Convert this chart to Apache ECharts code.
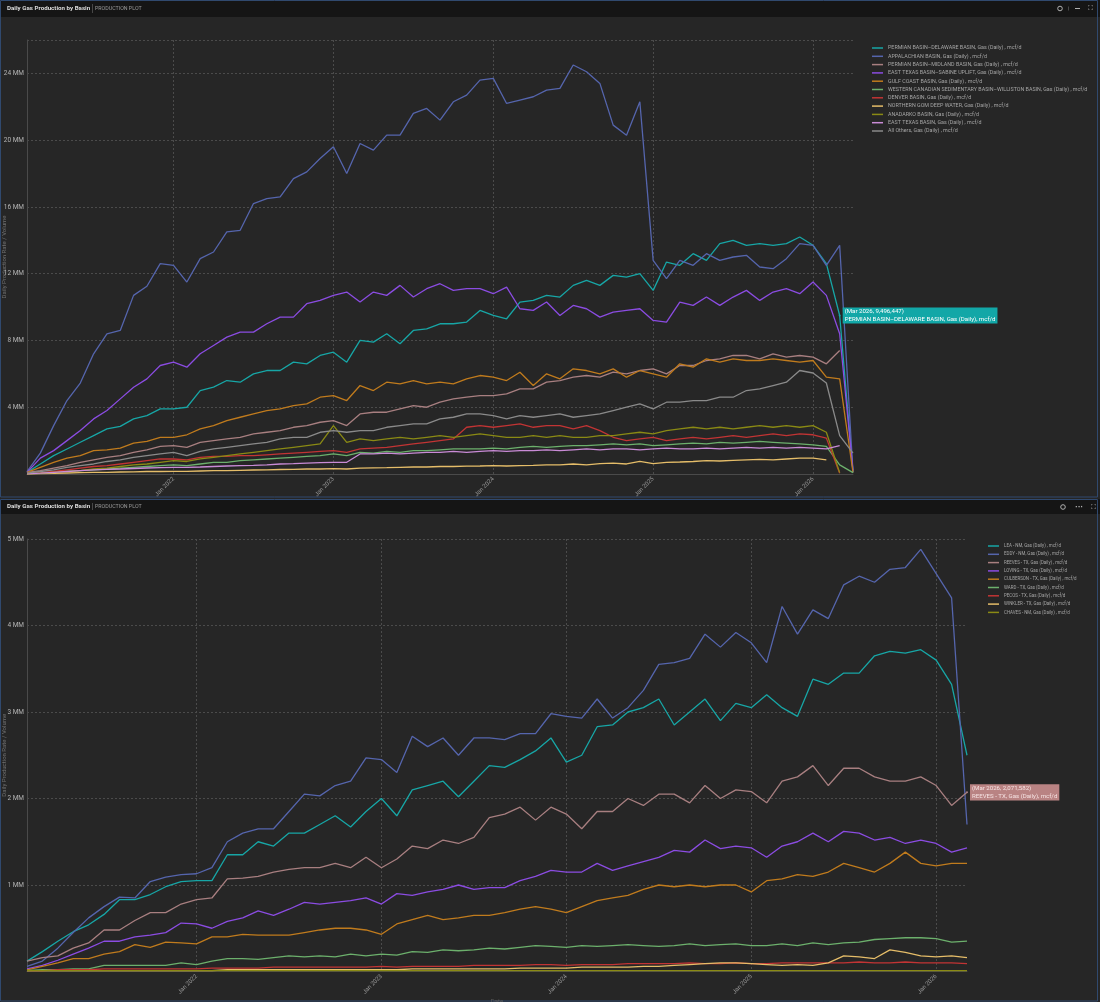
<!DOCTYPE html>
<html><head><meta charset="utf-8">
<script src="https://cdn.jsdelivr.net/npm/echarts@6/dist/echarts.min.js"></script>
<style>html,body{margin:0;padding:0;background:#1b1b1b;}#c{width:1100px;height:1002px;}</style>
</head><body><div id="c"></div>
<script>
// ---------- categories ----------
const monthNames = ['Jan','Feb','Mar','Apr','May','Jun','Jul','Aug','Sep','Oct','Nov','Dec'];
function monthRange(y0, m0, y1, m1) { const out = []; let y = y0, m = m0; while (y < y1 || (y === y1 && m <= m1)) { out.push(monthNames[m] + ' ' + y); m++; if (m > 11) { m = 0; y++; } } return out; }
const topMonths = monthRange(2021, 1, 2026, 3);     // Feb 2021 .. Apr 2026
const bottomMonths = monthRange(2021, 1, 2026, 2);  // Feb 2021 .. Mar 2026

// ---------- top chart values (MM mcf/d) ----------
const topNames = [
 'PERMIAN BASIN–DELAWARE BASIN, Gas (Daily) , mcf/d',
 'APPALACHIAN BASIN, Gas (Daily) , mcf/d',
 'PERMIAN BASIN–MIDLAND BASIN, Gas (Daily) , mcf/d',
 'EAST TEXAS BASIN–SABINE UPLIFT, Gas (Daily) , mcf/d',
 'GULF COAST BASIN, Gas (Daily) , mcf/d',
 'WESTERN CANADIAN SEDIMENTARY BASIN–WILLISTON BASIN, Gas (Daily) , mcf/d',
 'DENVER BASIN, Gas (Daily) , mcf/d',
 'NORTHERN GOM DEEP WATER, Gas (Daily) , mcf/d',
 'ANADARKO BASIN, Gas (Daily) , mcf/d',
 'EAST TEXAS BASIN, Gas (Daily) , mcf/d',
 'All Others, Gas (Daily) , mcf/d'
];
const permianDelaware = [0.1,0.6,1.1,1.5,1.9,2.3,2.7,2.85,3.3,3.5, 3.9,3.9,4.0,5.0,5.2,5.6,5.5,6.0,6.2,6.2, 6.7,6.6,7.1,7.3,6.7,8.0,7.9,8.4,7.8,8.6, 8.7,9.0,9.0,9.1,9.8,9.5,9.3,10.3,10.4,10.7, 10.6,11.3,11.6,11.3,11.9,11.8,12.0,11.0,12.7,12.5, 13.2,12.8,13.8,14.0,13.7,13.8,13.7,13.8,14.2,13.7, 12.6,9.496447,0.1];
const appalachian = [0.14,1.25,2.9,4.4,5.45,7.2,8.4,8.6,10.7,11.25, 12.6,12.5,11.5,12.9,13.3,14.5,14.6,16.2,16.5,16.6, 17.7,18.1,18.9,19.6,18.0,19.8,19.4,20.3,20.3,21.6, 21.9,21.2,22.3,22.7,23.6,23.7,22.2,22.4,22.6,23.0, 23.1,24.5,24.1,23.4,20.9,20.3,22.3,12.8,11.7,12.8, 12.5,13.2,12.8,13.0,13.1,12.4,12.3,12.9,13.8,13.7, 12.5,13.7,0.1];
const permianMidland = [0.1,0.2,0.35,0.5,0.7,0.85,1.0,1.1,1.3,1.45, 1.65,1.7,1.6,1.9,2.0,2.1,2.2,2.4,2.5,2.6, 2.8,2.9,3.1,3.2,2.9,3.6,3.7,3.7,3.9,4.1, 4.0,4.3,4.5,4.6,4.7,4.7,4.8,5.1,5.1,5.5, 5.6,5.8,5.9,5.8,6.1,6.0,6.2,6.3,6.0,6.5, 6.5,6.8,6.9,7.1,7.1,6.9,7.2,7.0,7.1,7.0, 6.6,7.4,null];
const eastTexasSabine = [0.1,0.95,1.4,2.0,2.6,3.3,3.8,4.5,5.2,5.7, 6.5,6.7,6.4,7.2,7.7,8.2,8.5,8.5,9.0,9.4, 9.4,10.2,10.4,10.7,10.9,10.3,10.9,10.7,11.3,10.6, 11.1,11.4,11.0,11.1,11.1,10.8,11.2,9.9,9.8,10.3, 9.5,10.1,9.9,9.4,9.7,9.8,9.9,9.2,9.1,10.3, 10.1,10.6,10.1,10.6,11.0,10.4,10.9,11.1,10.8,11.5, 10.7,8.4,0.2];
const gulfCoast = [0.1,0.4,0.7,0.95,1.1,1.4,1.45,1.55,1.85,1.95, 2.2,2.2,2.35,2.7,2.9,3.2,3.4,3.6,3.8,3.9, 4.1,4.2,4.6,4.7,4.4,5.3,5.0,5.5,5.4,5.6, 5.4,5.5,5.4,5.7,5.9,5.8,5.6,6.1,5.3,6.0, 5.7,6.3,6.2,6.0,6.3,5.8,6.2,6.0,5.8,6.6, 6.4,6.9,6.7,6.9,6.8,6.8,6.9,6.8,6.7,6.8, 5.8,5.7,0.1];
const westernCanadian = [0.02,0.05,0.1,0.15,0.2,0.25,0.3,0.35,0.4,0.45, 0.5,0.55,0.5,0.6,0.7,0.7,0.8,0.85,0.9,0.95, 1.0,1.05,1.1,1.2,1.1,1.3,1.25,1.35,1.3,1.4, 1.4,1.45,1.5,1.5,1.5,1.55,1.5,1.6,1.65,1.6, 1.65,1.7,1.7,1.75,1.8,1.75,1.8,1.7,1.75,1.8, 1.85,1.8,1.9,1.85,1.9,1.95,1.9,1.85,1.8,1.75, 1.65,0.55,0.08];
const denver = [0.02,0.08,0.15,0.25,0.35,0.45,0.5,0.6,0.7,0.8, 0.9,0.9,0.85,1.0,1.05,1.05,1.1,1.1,1.15,1.2, 1.25,1.3,1.35,1.4,1.3,1.5,1.55,1.6,1.7,1.8, 1.9,2.0,2.1,2.8,2.9,2.8,2.9,3.0,2.8,2.9, 2.9,2.7,2.9,2.6,2.2,2.0,2.1,2.2,2.0,2.1, 2.2,2.1,2.2,2.3,2.2,2.3,2.4,2.3,2.4,2.35, 2.15,0.05,null];
const northernGom = [0.0,0.02,0.04,0.06,0.08,0.1,0.1,0.12,0.13,0.15, 0.15,0.16,0.16,0.18,0.2,0.2,0.22,0.24,0.25,0.27, 0.28,0.3,0.3,0.32,0.3,0.35,0.37,0.38,0.4,0.42, 0.42,0.45,0.45,0.47,0.48,0.5,0.48,0.5,0.52,0.55, 0.55,0.6,0.55,0.62,0.65,0.6,0.75,0.62,0.7,0.72, 0.75,0.8,0.78,0.82,0.85,0.88,0.85,0.9,0.95,0.95, 0.85,null,null];
const anadarko = [0.01,0.05,0.1,0.15,0.2,0.3,0.35,0.45,0.55,0.6, 0.7,0.8,0.75,0.9,1.0,1.1,1.2,1.3,1.4,1.5, 1.6,1.7,1.8,2.9,1.9,2.1,2.0,2.1,2.2,2.1, 2.2,2.3,2.2,2.3,2.4,2.3,2.2,2.2,2.3,2.2, 2.3,2.2,2.2,2.3,2.3,2.4,2.5,2.4,2.6,2.7, 2.8,2.7,2.8,2.7,2.8,2.9,2.8,2.9,2.8,2.9, 2.5,0.08,null];
const eastTexasBasin = [0.01,0.05,0.1,0.15,0.2,0.25,0.28,0.3,0.33,0.36, 0.38,0.4,0.4,0.42,0.45,0.48,0.5,0.52,0.55,0.6, 0.62,0.65,0.68,0.7,0.7,1.2,1.2,1.25,1.2,1.25, 1.3,1.3,1.35,1.3,1.35,1.4,1.35,1.4,1.4,1.45, 1.4,1.45,1.5,1.45,1.5,1.5,1.45,1.5,1.55,1.5, 1.5,1.55,1.5,1.55,1.6,1.55,1.6,1.55,1.6,1.55, 1.5,1.7,null];
const allOthers = [0.05,0.15,0.25,0.4,0.5,0.6,0.75,0.85,1.0,1.1, 1.2,1.3,1.1,1.35,1.5,1.6,1.7,1.8,1.9,2.1, 2.2,2.2,2.5,2.6,2.5,2.6,2.6,2.8,2.9,3.0, 3.0,3.3,3.4,3.6,3.6,3.5,3.3,3.5,3.4,3.5, 3.6,3.4,3.5,3.6,3.8,4.0,4.2,3.9,4.3,4.3, 4.4,4.4,4.6,4.6,5.0,5.1,5.3,5.5,6.2,6.05, 5.45,2.3,1.25];
const topColors = ['#17a6a6','#5565ad','#a87f80','#8b4ce2','#c07b1d','#6cb06c','#c23434','#e5bd69','#8a8a14','#c98bd6','#8a8a8a'];

// ---------- bottom chart values (MM mcf/d) ----------
const bottomNames = [
 'LEA - NM, Gas (Daily) , mcf/d',
 'EDDY - NM, Gas (Daily) , mcf/d',
 'REEVES - TX, Gas (Daily) , mcf/d',
 'LOVING - TX, Gas (Daily) , mcf/d',
 'CULBERSON - TX, Gas (Daily) , mcf/d',
 'WARD - TX, Gas (Daily) , mcf/d',
 'PECOS - TX, Gas (Daily) , mcf/d',
 'WINKLER - TX, Gas (Daily) , mcf/d',
 'CHAVES - NM, Gas (Daily) , mcf/d'
];
const lea = [0.12,0.23,0.35,0.46,0.54,0.66,0.83,0.83,0.89,0.98, 1.04,1.05,1.05,1.35,1.35,1.5,1.45,1.6,1.6,1.7, 1.8,1.67,1.85,2.0,1.8,2.1,2.15,2.2,2.02,2.2, 2.38,2.36,2.45,2.55,2.7,2.42,2.5,2.83,2.85,3.0, 3.05,3.15,2.85,3.0,3.15,2.9,3.1,3.05,3.2,3.05, 2.95,3.38,3.32,3.45,3.45,3.65,3.7,3.68,3.72,3.6, 3.32,2.5];
const eddy = [0.06,0.12,0.27,0.45,0.62,0.75,0.86,0.85,1.04,1.09, 1.12,1.13,1.2,1.5,1.6,1.65,1.65,1.85,2.05,2.03, 2.15,2.2,2.47,2.45,2.3,2.72,2.6,2.7,2.5,2.7, 2.7,2.68,2.75,2.75,2.98,2.95,2.93,3.15,2.93,3.05, 3.25,3.55,3.57,3.62,3.9,3.75,3.92,3.8,3.57,4.22, 3.9,4.18,4.08,4.47,4.57,4.5,4.65,4.67,4.88,4.6, 4.32,1.7];
const reeves = [0.12,0.16,0.18,0.27,0.33,0.48,0.48,0.59,0.68,0.68, 0.78,0.83,0.85,1.07,1.08,1.1,1.15,1.18,1.2,1.2, 1.25,1.2,1.32,1.2,1.3,1.45,1.42,1.52,1.48,1.55, 1.78,1.82,1.9,1.75,1.9,1.82,1.65,1.85,1.85,2.0, 1.92,2.05,2.05,1.95,2.15,2.0,2.1,2.08,1.95,2.2, 2.25,2.38,2.15,2.35,2.35,2.25,2.2,2.2,2.25,2.15, 1.92,2.071582];
const loving = [0.03,0.07,0.13,0.2,0.27,0.35,0.35,0.4,0.42,0.45, 0.56,0.55,0.5,0.58,0.62,0.7,0.65,0.72,0.8,0.78, 0.8,0.82,0.85,0.78,0.9,0.88,0.92,0.95,1.0,0.95, 0.97,0.97,1.05,1.1,1.17,1.15,1.15,1.25,1.17,1.22, 1.27,1.32,1.4,1.38,1.52,1.42,1.45,1.43,1.32,1.45, 1.5,1.6,1.5,1.62,1.6,1.52,1.55,1.48,1.52,1.48, 1.38,1.43];
const culberson = [0.02,0.06,0.1,0.15,0.15,0.2,0.23,0.31,0.28,0.34, 0.33,0.32,0.4,0.4,0.43,0.42,0.42,0.42,0.45,0.48, 0.5,0.5,0.48,0.43,0.55,0.6,0.65,0.6,0.62,0.65, 0.65,0.68,0.72,0.75,0.72,0.68,0.75,0.82,0.85,0.88, 0.95,1.0,0.98,1.0,0.98,1.0,1.0,0.92,1.05,1.07, 1.12,1.1,1.15,1.25,1.2,1.15,1.25,1.38,1.25,1.22, 1.25,1.25];
const ward = [0.01,0.02,0.02,0.03,0.03,0.07,0.07,0.07,0.07,0.07, 0.1,0.08,0.12,0.15,0.15,0.14,0.16,0.18,0.17,0.18, 0.17,0.2,0.18,0.2,0.19,0.23,0.22,0.25,0.24,0.25, 0.27,0.26,0.28,0.3,0.29,0.28,0.3,0.29,0.3,0.31, 0.3,0.29,0.3,0.32,0.3,0.31,0.32,0.3,0.3,0.32, 0.3,0.33,0.31,0.33,0.34,0.37,0.38,0.39,0.39,0.38, 0.34,0.35];
const pecos = [0.01,0.01,0.02,0.02,0.02,0.03,0.03,0.03,0.03,0.03, 0.03,0.03,0.04,0.04,0.04,0.04,0.05,0.05,0.05,0.05, 0.05,0.05,0.05,0.06,0.05,0.06,0.06,0.06,0.06,0.07, 0.07,0.07,0.07,0.08,0.08,0.07,0.08,0.08,0.08,0.09, 0.09,0.09,0.09,0.1,0.09,0.09,0.1,0.09,0.09,0.1, 0.1,0.1,0.1,0.1,0.11,0.1,0.1,0.11,0.1,0.1, 0.1,0.09];
const winkler = [0.01,0.01,0.01,0.01,0.01,0.01,0.01,0.01,0.01,0.01, 0.01,0.01,0.01,0.02,0.02,0.02,0.02,0.02,0.02,0.02, 0.02,0.02,0.02,0.02,0.02,0.03,0.03,0.03,0.03,0.03, 0.03,0.03,0.04,0.04,0.04,0.04,0.05,0.05,0.05,0.05, 0.06,0.06,0.07,0.08,0.09,0.1,0.1,0.09,0.08,0.07, 0.08,0.07,0.1,0.18,0.17,0.15,0.25,0.22,0.18,0.17, 0.18,0.16];
const chaves = [0.01,0.01,0.01,0.01,0.01,0.01,0.01,0.01,0.01,0.01, 0.01,0.01,0.01,0.01,0.01,0.01,0.01,0.01,0.01,0.01, 0.01,0.01,0.01,0.01,0.01,0.01,0.01,0.01,0.01,0.01, 0.01,0.01,0.01,0.01,0.01,0.01,0.01,0.01,0.01,0.01, 0.01,0.01,0.01,0.01,0.01,0.01,0.01,0.01,0.01,0.01, 0.01,0.01,0.01,0.01,0.01,0.01,0.01,0.01,0.01,0.01, 0.01,0.01];
const bottomColors = ['#17a6a6','#5565ad','#a87f80','#8b4ce2','#c07b1d','#6cb06c','#c23434','#e5bd69','#8a8a14'];

const topSeriesValues = [permianDelaware, appalachian, permianMidland, eastTexasSabine, gulfCoast, westernCanadian, denver, northernGom, anadarko, eastTexasBasin, allOthers];
const bottomSeriesValues = [lea, eddy, reeves, loving, culberson, ward, pecos, winkler, chaves];

// highlighted callouts
const topCallout = { series: 0, month: 'Mar 2026', bg: '#12a7a7', color: '#ffffff' };
const bottomCallout = { series: 2, month: 'Mar 2026', bg: '#b98383', color: '#f6e3e3' };

const FONT = 'Roboto, "Noto Sans", sans-serif';
const chart = echarts.init(document.getElementById('c'), null, { renderer: 'canvas' });

function fmtMM(v) { return v === 0 ? '' : (v / 1e6) + ' MM'; }
function calloutText(p) {
  return '(' + p.name + ', ' + Math.round(p.value).toLocaleString('en-US') + ')\n' + p.seriesName.replace(' ,', ',');
}
function buildSeries(names, values, colors, months, axisIdx, callout) {
  return names.map((n, si) => ({
    name: n, type: 'line', xAxisIndex: axisIdx, yAxisIndex: axisIdx,
    symbol: 'circle', symbolSize: 0, showSymbol: true, showAllSymbol: true,
    lineStyle: { width: 1.3, color: colors[si] }, itemStyle: { color: colors[si] },
    emphasis: { disabled: true }, silent: true,
    data: values[si].map((v, i) => {
      const val = v === null ? null : Math.round(v * 1e6);
      if (callout && callout.series === si && months[i] === callout.month) {
        return { value: val, symbolSize: 2, label: { show: true, position: 'right', distance: 2,
          formatter: calloutText, backgroundColor: callout.bg, color: callout.color,
          fontFamily: FONT, fontSize: 6.1, lineHeight: 7.6, padding: [1, 2, 0, 2] } };
      }
      return val;
    })
  }));
}
const isJan = (idx, v) => v.indexOf('Jan') === 0;

function xAxisCfg(months, gridIdx, showName) {
  return {
    type: 'category', gridIndex: gridIdx, data: months, boundaryGap: false,
    axisLine: { show: true, lineStyle: { color: '#4a4a4a' } },
    axisTick: { show: false },
    axisLabel: { interval: isJan, rotate: 45, fontSize: 6, color: '#9a9a9a', fontFamily: FONT, margin: 4 },
    splitLine: { show: true, interval: isJan, lineStyle: { color: '#4b4b4b', type: [2, 2] } },
    name: showName ? 'Date' : '', nameLocation: 'middle', nameGap: 26,
    nameTextStyle: { color: '#5f5f5f', fontSize: 6, fontFamily: FONT }
  };
}
function yAxisCfg(gridIdx, max, interval, labelMax) {
  return {
    type: 'value', gridIndex: gridIdx, min: 0, max: max, interval: interval,
    axisLine: { show: true, lineStyle: { color: '#4a4a4a' } },
    axisTick: { show: false },
    axisLabel: { formatter: v => (v > labelMax ? '' : fmtMM(v)), fontSize: 6.5, color: '#b5b5b5', fontFamily: FONT, margin: 3 },
    splitLine: { show: true, lineStyle: { color: '#4b4b4b', type: [2, 2] } },
    name: 'Daily Production Rate / Volume', nameLocation: 'middle', nameGap: 20, nameRotate: 90,
    nameMoveOverlap: false,
    nameTextStyle: { color: '#707070', fontSize: 6, fontFamily: FONT }
  };
}
function legendCfg(names, left, top, fs) {
  return { data: names, orient: 'vertical', left: left, top: top, icon: 'rect', itemWidth: 11, itemHeight: 1.5,
    itemGap: 2.3, padding: 0, textStyle: { color: '#a5a5a5', fontSize: fs, lineHeight: 6, fontFamily: FONT }, selectedMode: false };
}
function headerGraphics(y, h, title, icons) {
  const g = [
    { type: 'rect', shape: { x: 0, y: y, width: 1100, height: h }, style: { fill: '#151515' }, silent: true },
    { type: 'text', x: 7, y: y + h / 2, style: { text: title, fill: '#dcdcdc', font: 'bold 6.2px ' + FONT, verticalAlign: 'middle' } },
    { type: 'rect', shape: { x: 92, y: y + 4, width: 0.8, height: h - 8 }, style: { fill: '#555' } },
    { type: 'text', x: 95, y: y + h / 2, style: { text: 'PRODUCTION PLOT', fill: '#9a9a9a', font: '5.3px ' + FONT, verticalAlign: 'middle' } }
  ];
  return g.concat(icons);
}
const cy1 = 8.5, cy2 = 507;
const icons1 = [
  { type: 'circle', shape: { cx: 1060, cy: cy1, r: 2.3 }, style: { fill: 'none', stroke: '#b0b0b0', lineWidth: 1 } },
  { type: 'rect', shape: { x: 1068, y: cy1 - 2, width: 0.8, height: 4 }, style: { fill: '#555' } },
  { type: 'rect', shape: { x: 1075, y: cy1 - 0.5, width: 5, height: 1 }, style: { fill: '#b0b0b0' } },
  { type: 'text', x: 1090, y: cy1, style: { text: '⛶', fill: '#b0b0b0', font: '7px "DejaVu Sans"', align: 'center', verticalAlign: 'middle' } }
];
const icons2 = [
  { type: 'circle', shape: { cx: 1063, cy: cy2, r: 2.3 }, style: { fill: 'none', stroke: '#b0b0b0', lineWidth: 1 } },
  { type: 'text', x: 1079, y: cy2, style: { text: '···', fill: '#b0b0b0', font: 'bold 7px "DejaVu Sans"', align: 'center', verticalAlign: 'middle' } },
  { type: 'text', x: 1093, y: cy2, style: { text: '⛶', fill: '#b0b0b0', font: '7px "DejaVu Sans"', align: 'center', verticalAlign: 'middle' } }
];

const option = {
  backgroundColor: '#262626',
  animation: false,
  textStyle: { fontFamily: FONT },
  grid: [
    { left: 27, top: 40, width: 826, height: 434, containLabel: false, outerBoundsMode: 'none' },
    { left: 27, top: 539, width: 940, height: 432.5, containLabel: false, outerBoundsMode: 'none' }
  ],
  xAxis: [xAxisCfg(topMonths, 0, false), xAxisCfg(bottomMonths, 1, true)],
  yAxis: [yAxisCfg(0, 26e6, 4e6, 24e6), yAxisCfg(1, 5e6, 1e6, 5e6)],
  legend: [legendCfg(topNames, 872, 45, 5.35), legendCfg(bottomNames, 988, 543, 4.45)],
  series: buildSeries(topNames, topSeriesValues, topColors, topMonths, 0, topCallout)
    .concat(buildSeries(bottomNames, bottomSeriesValues, bottomColors, bottomMonths, 1, bottomCallout)),
  graphic: headerGraphics(0, 17, 'Daily Gas Production by Basin', icons1)
    .concat(headerGraphics(499, 15, 'Daily Gas Production by Basin', icons2))
    .concat([
      { type: 'rect', shape: { x: 0.5, y: 0.5, width: 1097, height: 496.5 }, style: { fill: 'none', stroke: '#30496e', lineWidth: 1 }, silent: true },
      { type: 'rect', shape: { x: 0.5, y: 499.5, width: 1097, height: 501.5 }, style: { fill: 'none', stroke: '#30496e', lineWidth: 1 }, silent: true }
    ])
};
chart.setOption(option);
</script></body></html>
